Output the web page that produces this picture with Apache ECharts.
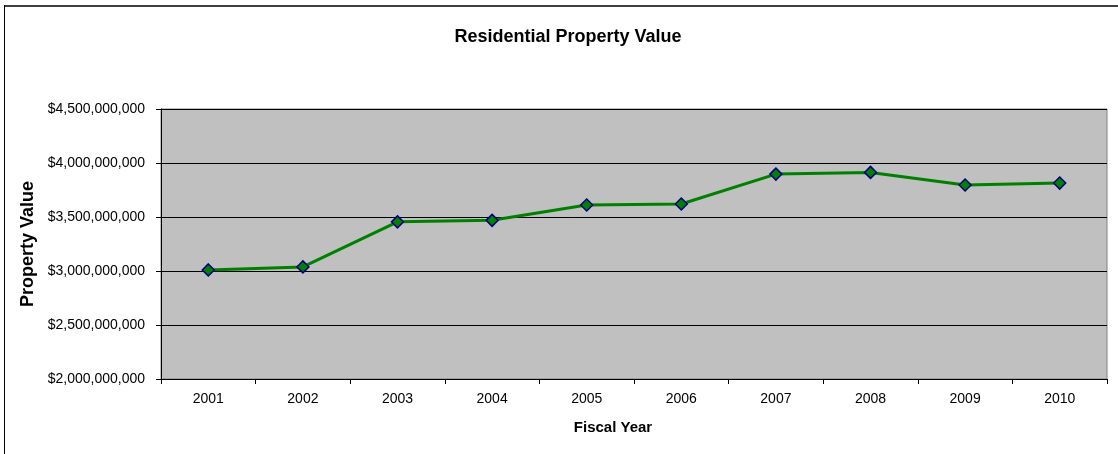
<!DOCTYPE html>
<html>
<head>
<meta charset="utf-8">
<script src="https://cdn.jsdelivr.net/npm/echarts@6/dist/echarts.min.js"></script>
<style>
  html, body { margin: 0; padding: 0; background: #ffffff; }
  #chart { width: 1118px; height: 454px; }
</style>
</head>
<body>
<div id="chart"></div>
<script>
// Fiscal years and residential property value (dollars)
const fiscalYears = ['2001', '2002', '2003', '2004', '2005', '2006', '2007', '2008', '2009', '2010'];
const propertyValues = [3010000000, 3038000000, 3455000000, 3469000000, 3611000000, 3620000000, 3897000000, 3913000000, 3796000000, 3814000000];

const FONT = 'Liberation Sans, Arial, sans-serif';

function dollars(v) {
  return '$' + String(Math.round(v)).replace(/\B(?=(\d{3})+(?!\d))/g, ',');
}

const chart = echarts.init(document.getElementById('chart'), null, { renderer: 'canvas' });

chart.setOption({
  animation: false,
  backgroundColor: '#ffffff',
  grid: {
    left: 161,
    right: 11,
    top: 109,
    bottom: 75,
    show: true,
    backgroundColor: '#c0c0c0',
    borderColor: '#808080',
    borderWidth: 1
  },
  xAxis: {
    type: 'category',
    data: fiscalYears,
    boundaryGap: true,
    axisLine: { show: true, lineStyle: { color: '#000000', width: 1 } },
    axisTick: { show: true, alignWithLabel: false, length: 5, lineStyle: { color: '#000000' } },
    axisLabel: { fontFamily: FONT, fontSize: 14, color: '#000000', margin: 13 },
    splitLine: { show: false }
  },
  yAxis: {
    type: 'value',
    min: 2000000000,
    max: 4500000000,
    interval: 500000000,
    name: 'Property Value',
    nameLocation: 'middle',
    nameGap: 124,
    nameRotate: 90,
    nameTextStyle: { fontFamily: FONT, fontSize: 18, fontWeight: 'bold', color: '#000000' },
    axisLine: { show: true, lineStyle: { color: '#000000', width: 1 } },
    axisTick: { show: true, length: 5, lineStyle: { color: '#000000' } },
    axisLabel: { fontFamily: FONT, fontSize: 14, color: '#000000', margin: 16, formatter: dollars },
    splitLine: { show: true, lineStyle: { color: '#000000', width: 1 } }
  },
  series: [{
    type: 'line',
    data: propertyValues,
    symbol: 'diamond',
    symbolSize: 12,
    lineStyle: { color: '#008000', width: 3 },
    itemStyle: { color: '#008000', borderColor: '#000080', borderWidth: 1.5 },
    z: 3
  }],
  graphic: [
    {
      type: 'text',
      x: 568,
      y: 37,
      style: {
        text: 'Residential Property Value',
        fontFamily: FONT,
        fontSize: 18,
        fontWeight: 'bold',
        fill: '#000000',
        align: 'center',
        verticalAlign: 'middle'
      }
    },
    {
      type: 'text',
      x: 613,
      y: 428,
      style: {
        text: 'Fiscal Year',
        fontFamily: FONT,
        fontSize: 15,
        fontWeight: 'bold',
        fill: '#000000',
        align: 'center',
        verticalAlign: 'middle'
      }
    },
    {
      type: 'line',
      shape: { x1: 4, y1: 6, x2: 1118, y2: 6 },
      style: { stroke: '#404040', lineWidth: 2 }
    },
    {
      type: 'line',
      shape: { x1: 4.5, y1: 5, x2: 4.5, y2: 454 },
      style: { stroke: '#000000', lineWidth: 1 }
    }
  ]
});
</script>
</body>
</html>
